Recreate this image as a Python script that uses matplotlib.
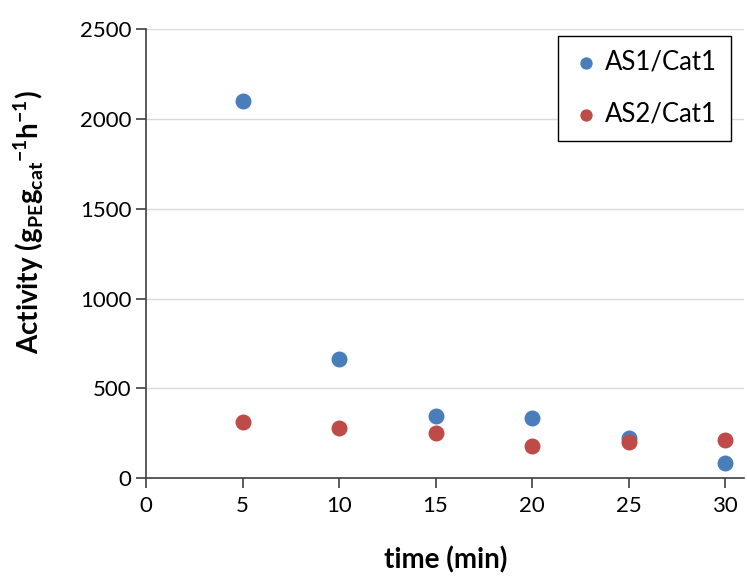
import matplotlib.pyplot as plt

plt.rcParams["font.family"] = ["Lato", "DejaVu Sans"]
plt.rcParams["mathtext.fontset"] = "custom"
plt.rcParams["mathtext.rm"] = "Lato"
plt.rcParams["mathtext.bf"] = "Lato:bold"

# data
time_min = [5, 10, 15, 20, 25, 30]
as1_cat1 = [2100, 665, 348, 336, 226, 84]
as2_cat1 = [315, 280, 253, 178, 200, 213]

x_ticks = [0, 5, 10, 15, 20, 25, 30]
y_ticks = [0, 500, 1000, 1500, 2000, 2500]

fig = plt.figure(figsize=(7.47, 5.77), dpi=100)
ax = fig.add_axes([0.1955, 0.171, 0.801, 0.779])

ax.scatter(time_min, as1_cat1, s=110, color="#4A7EBB", label="AS1/Cat1", zorder=3)
ax.scatter(time_min, as2_cat1, s=110, color="#BE4B48", label="AS2/Cat1", zorder=3)

ax.set_xlim(0, 31)
ax.set_ylim(0, 2500)
ax.set_xticks(x_ticks)
ax.set_yticks(y_ticks)
ax.tick_params(axis="both", labelsize=16, color="#404040", length=7, width=1.2)
ax.tick_params(axis="x", pad=6)
ax.grid(axis="y", color="#D9D9D9", linewidth=1)
ax.set_axisbelow(True)

for side in ["top", "right"]:
    ax.spines[side].set_visible(False)
for side in ["left", "bottom"]:
    ax.spines[side].set_color("#404040")
    ax.spines[side].set_linewidth(1.2)

ax.set_xlabel("time (min)", fontsize=20, fontweight="bold")
ax.xaxis.set_label_coords(0.5, -0.152)
ax.set_ylabel(r"Activity ($\mathbf{g_{PE}g_{cat}}^{\mathbf{-1}}\mathbf{h}^{\mathbf{-1}}$)",
              fontsize=20, fontweight="bold")
ax.yaxis.set_label_coords(-0.168, 0.57)

leg = ax.legend(loc="upper right", bbox_to_anchor=(0.978, 0.985), borderaxespad=0,
                fontsize=18.5, fancybox=False, edgecolor="black", framealpha=1,
                handletextpad=0.2, labelspacing=1.05, borderpad=0.55,
                markerscale=0.75, handlelength=1.1)
leg.get_frame().set_linewidth(1.0)

fig.savefig("out.png", dpi=100)
